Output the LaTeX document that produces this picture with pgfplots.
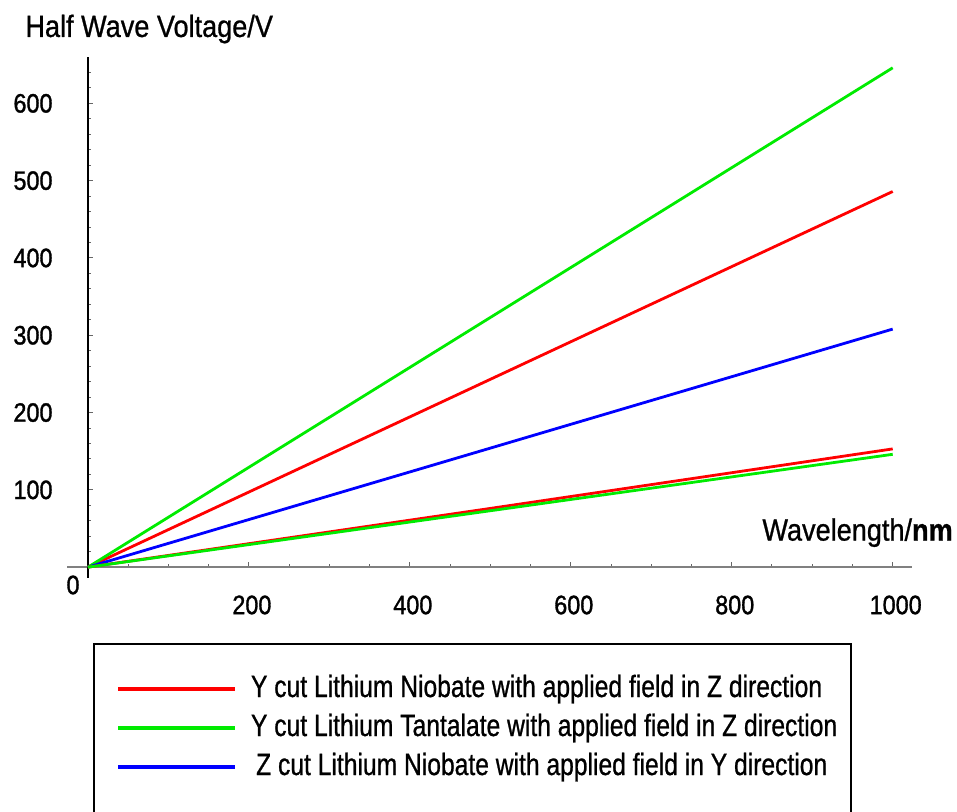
\documentclass[border=0pt]{standalone}
\usepackage{fontspec}
\setmainfont{Liberation Sans}[FakeStretch=0.88, FakeBold=0.8]
\newfontfamily\legfont{Liberation Sans}[FakeStretch=0.8, FakeBold=0.8]
\newfontfamily\tickfont{Liberation Sans}[FakeStretch=0.88, FakeBold=1.2]
\usepackage{pgfplots}
\pgfplotsset{compat=1.18}
\definecolor{lgreen}{RGB}{0,235,0}
\begin{document}
\begin{tikzpicture}
\useasboundingbox (0,0) rectangle (478.5pt,406pt);
\clip (0,0) rectangle (478.5pt,406pt);
\begin{axis}[
  at={(33.5pt,117pt)}, anchor=south west,
  scale only axis, width=422.5pt, height=260.5pt,
  xmin=-26, xmax=1024, ymin=-14, ymax=660,
  axis lines=middle,
  axis line style={-},
  x axis line style={gray, line width=0.8pt},
  y axis line style={black, line width=0.6pt},
  xtick={200,400,...,1000},
  ytick={100,200,...,600},
  minor xtick={50,100,...,1000},
  minor ytick={20,40,...,640},
  tick align=inside,
  tick style={gray!80!black, line width=0.5pt},
  major tick length=2.6pt, minor tick length=1.6pt,
  /pgf/number format/assume math mode=true,
  /pgf/number format/1000 sep={},
  ticklabel style={font=\tickfont\fontsize{13.3}{15}\selectfont},
  yticklabel style={inner sep=0pt, anchor=east, xshift=-17.5pt},
  xticklabel style={inner sep=0pt, anchor=north, yshift=-14pt, xshift=1.5pt},
  xlabel={Wavelength/\textbf{nm}},
  ylabel={Half Wave Voltage/V},
  every axis x label/.style={at={(axis description cs:0.8225,0.0718)}, anchor=base west, inner sep=0pt, font=\fontsize{15.4}{18}\selectfont},
  every axis y label/.style={at={(axis description cs:-0.0497,1.0384)}, anchor=base west, inner sep=0pt, font=\fontsize{15.4}{18}\selectfont},
  legend image code/.code={\draw[#1, line width=2pt] (0pt,0pt) -- (58.5pt,0pt);},
  legend cell align=left,
  legend style={at={(axis description cs:0.0308,-0.1248)}, anchor=north west,
    draw=black, line width=1pt, inner xsep=11pt, inner ysep=12.75pt,
    row sep=0pt, column sep=7pt,
    nodes={inner sep=0pt, minimum height=19.5pt, text height=11pt, text depth=3pt, anchor=west},
    font=\legfont\fontsize{15.4}{18}\selectfont},
  clip=false,
]
\addplot[red, line width=1.4pt] coordinates {(0,0) (500,243) (1000,486)};
\addlegendentry{\makebox[289pt][l]{Y cut Lithium Niobate with applied field in Z direction}}
\addplot[lgreen, line width=1.4pt] coordinates {(0,0) (500,323) (1000,646)};
\addlegendentry{\makebox[289pt][l]{Y cut Lithium Tantalate with applied field in Z direction}}
\addplot[blue, line width=1.4pt] coordinates {(0,0) (500,154) (1000,308)};
\addlegendentry{\makebox[289pt][l]{\,Z cut Lithium Niobate with applied field in Y direction}}
\addplot[red, line width=1.4pt, forget plot] coordinates {(0,0) (500,76) (1000,153)};
\addplot[lgreen, line width=1.4pt, forget plot] coordinates {(0,0) (500,73) (1000,146)};
\addlegendimage{empty legend}
\addlegendentry{}
\node[anchor=north east, inner sep=0pt, font=\tickfont\fontsize{13.3}{15}\selectfont] at (axis cs:0,0) [xshift=-4pt, yshift=-4pt] {0};
\end{axis}
\end{tikzpicture}
\end{document}
